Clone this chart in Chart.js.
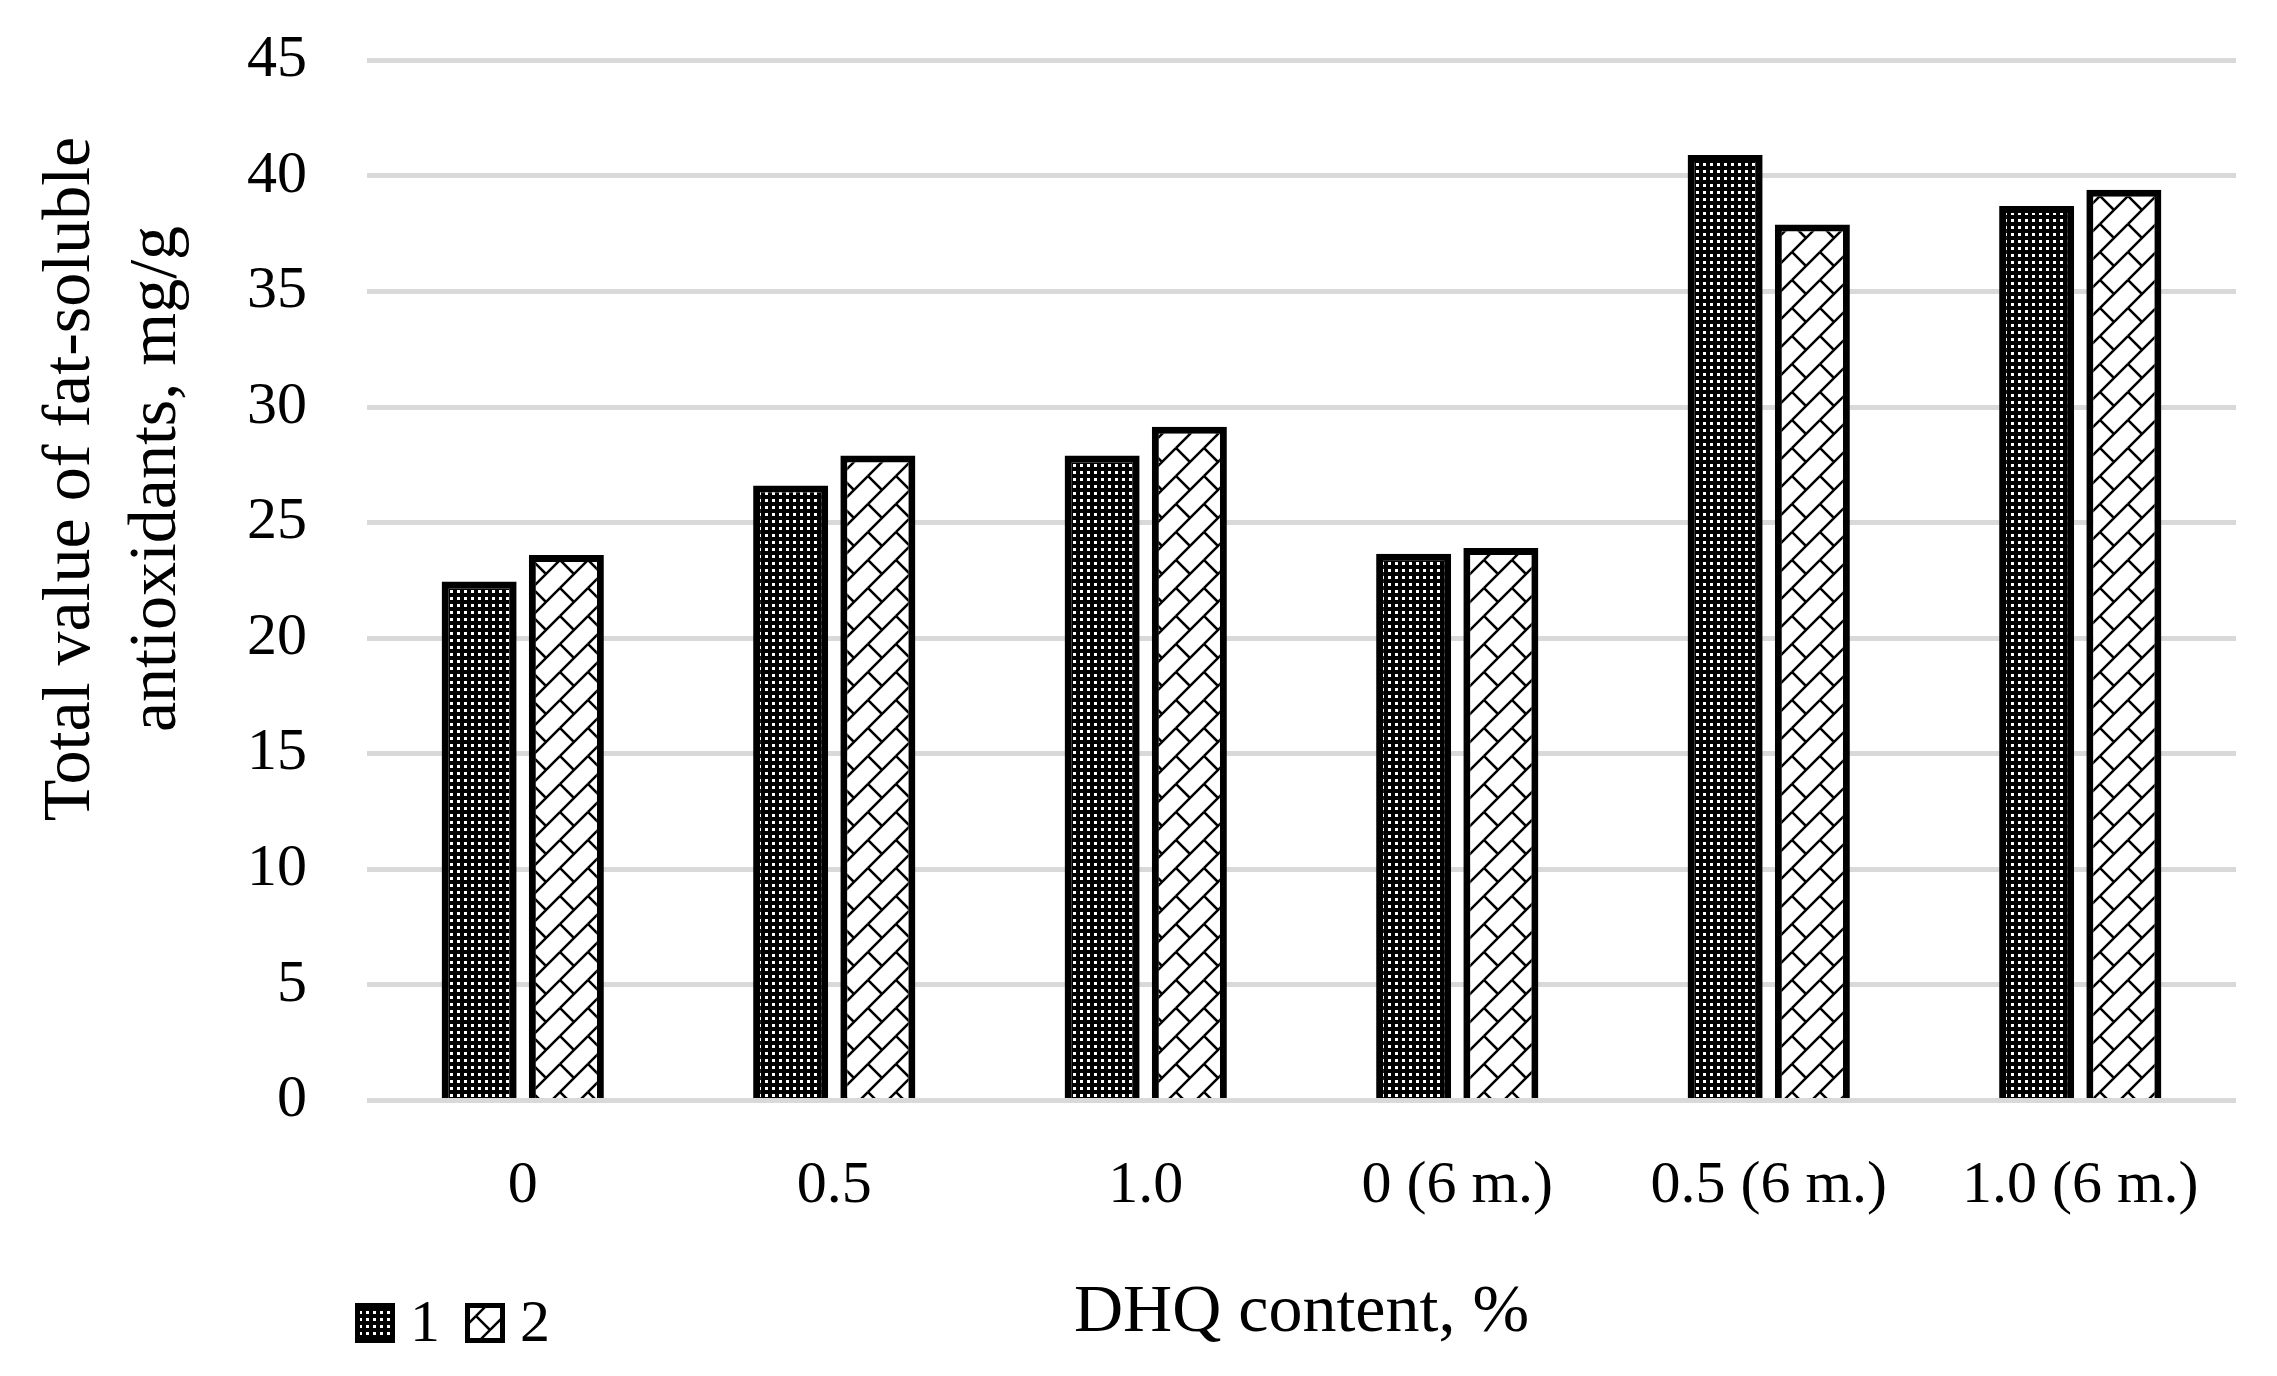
<!DOCTYPE html>
<html>
<head>
<meta charset="utf-8">
<script src="https://cdn.jsdelivr.net/npm/chart.js@4.4.1/dist/chart.umd.min.js"></script>
<style>
  html, body { margin: 0; padding: 0; background: #fff; }
</style>
</head>
<body>
<canvas id="dhq-chart" width="2277" height="1376"></canvas>
<script>
// values
const categories = ['0', '0.5', '1.0', '0 (6 m.)', '0.5 (6 m.)', '1.0 (6 m.)'];
const series1 = [22.45, 26.6, 27.9, 23.65, 40.9, 38.7];
const series2 = [23.6, 27.9, 29.15, 23.9, 37.9, 39.4];
const seriesNames = ['1', '2'];
const yMin = 0, yMax = 45, yStep = 5;
const yTitle = ['Total value of fat-soluble', 'antioxidants, mg/g'];
const xTitle = 'DHQ content, %';

const fontFamily = '"Liberation Serif", "Times New Roman", serif';

// black with white dots
const dotPattern = (() => {
    const c = document.createElement('canvas');
    c.width = 7; c.height = 7;
    const g = c.getContext('2d');
    g.fillStyle = '#000';
    g.fillRect(0, 0, 7, 7);
    g.fillStyle = '#fff';
    g.fillRect(2, 2, 3, 3);
    return g.createPattern(c, 'repeat');
})();

// diagonal brick
const brickPattern = (() => {
    const t = 28;
    const c = document.createElement('canvas');
    c.width = t; c.height = t;
    const g = c.getContext('2d');
    g.fillStyle = '#fff';
    g.fillRect(0, 0, t, t);
    g.strokeStyle = '#000';
    g.lineWidth = 2.5;
    for (let dx = -t; dx <= t; dx += t) {
        for (let dy = -t; dy <= t; dy += t) {
            g.beginPath();
            g.moveTo(dx, dy + t);
            g.lineTo(dx + t, dy);
            g.moveTo(dx, dy);
            g.lineTo(dx + t / 2, dy + t / 2);
            g.stroke();
        }
    }
    return g.createPattern(c, 'repeat');
})();

// y title + legend drawn by hand so they sit where the original has them
const sideText = {
    id: 'sideText',
    afterDraw(chart) {
        const ctx = chart.ctx;
        ctx.save();
        ctx.fillStyle = '#000';
        ctx.font = '68px ' + fontFamily;
        ctx.textAlign = 'center';
        ctx.textBaseline = 'middle';
        ctx.translate(114, 479);
        ctx.rotate(-Math.PI / 2);
        yTitle.forEach((line, i) => ctx.fillText(line, 0, (i - 0.5) * 86));
        ctx.restore();

        ctx.save();
        ctx.font = '60px ' + fontFamily;
        ctx.textAlign = 'left';
        ctx.textBaseline = 'middle';
        chart.data.datasets.forEach((ds, i) => {
            const x = 355 + i * 110;
            const y = 1323;
            ctx.fillStyle = ds.backgroundColor;
            ctx.fillRect(x, y - 20, 40, 40);
            ctx.lineWidth = 5;
            ctx.strokeStyle = '#000';
            ctx.strokeRect(x + 2.5, y - 17.5, 35, 35);
            ctx.fillStyle = '#000';
            ctx.fillText(ds.label, x + 55, y + 2);
        });
        ctx.restore();
    }
};

const dhqChart = new Chart(document.getElementById('dhq-chart'), {
    type: 'bar',
    data: {
        labels: categories,
        datasets: [{
            label: seriesNames[0],
            data: series1,
            backgroundColor: dotPattern,
            borderColor: '#000',
            borderWidth: 7
        }, {
            label: seriesNames[1],
            data: series2,
            backgroundColor: brickPattern,
            borderColor: '#000',
            borderWidth: 7
        }]
    },
    options: {
        responsive: false,
        animation: false,
        events: [],
        categoryPercentage: 0.56,
        barPercentage: 0.86,
        layout: {
            padding: { top: 10, right: 41, bottom: 0, left: 187 }
        },
        plugins: {
            legend: { display: false },
            tooltip: { enabled: false }
        },
        scales: {
            x: {
                grid: { display: false, drawTicks: false },
                border: { display: false },
                ticks: {
                    color: '#000',
                    padding: 50,
                    font: { family: fontFamily, size: 60 }
                },
                title: {
                    display: true,
                    text: xTitle,
                    color: '#000',
                    font: { family: fontFamily, size: 68 },
                    padding: { top: 0, bottom: 22 }
                }
            },
            y: {
                min: yMin,
                max: yMax,
                grid: { color: '#d9d9d9', lineWidth: 5, drawTicks: false },
                border: { display: false },
                ticks: {
                    stepSize: yStep,
                    color: '#000',
                    padding: 60,
                    // tiny line height so the top label does not push the plot down
                    font: { family: fontFamily, size: 60, lineHeight: 0.01 }
                }
            }
        }
    },
    plugins: [sideText]
});
</script>
</body>
</html>
